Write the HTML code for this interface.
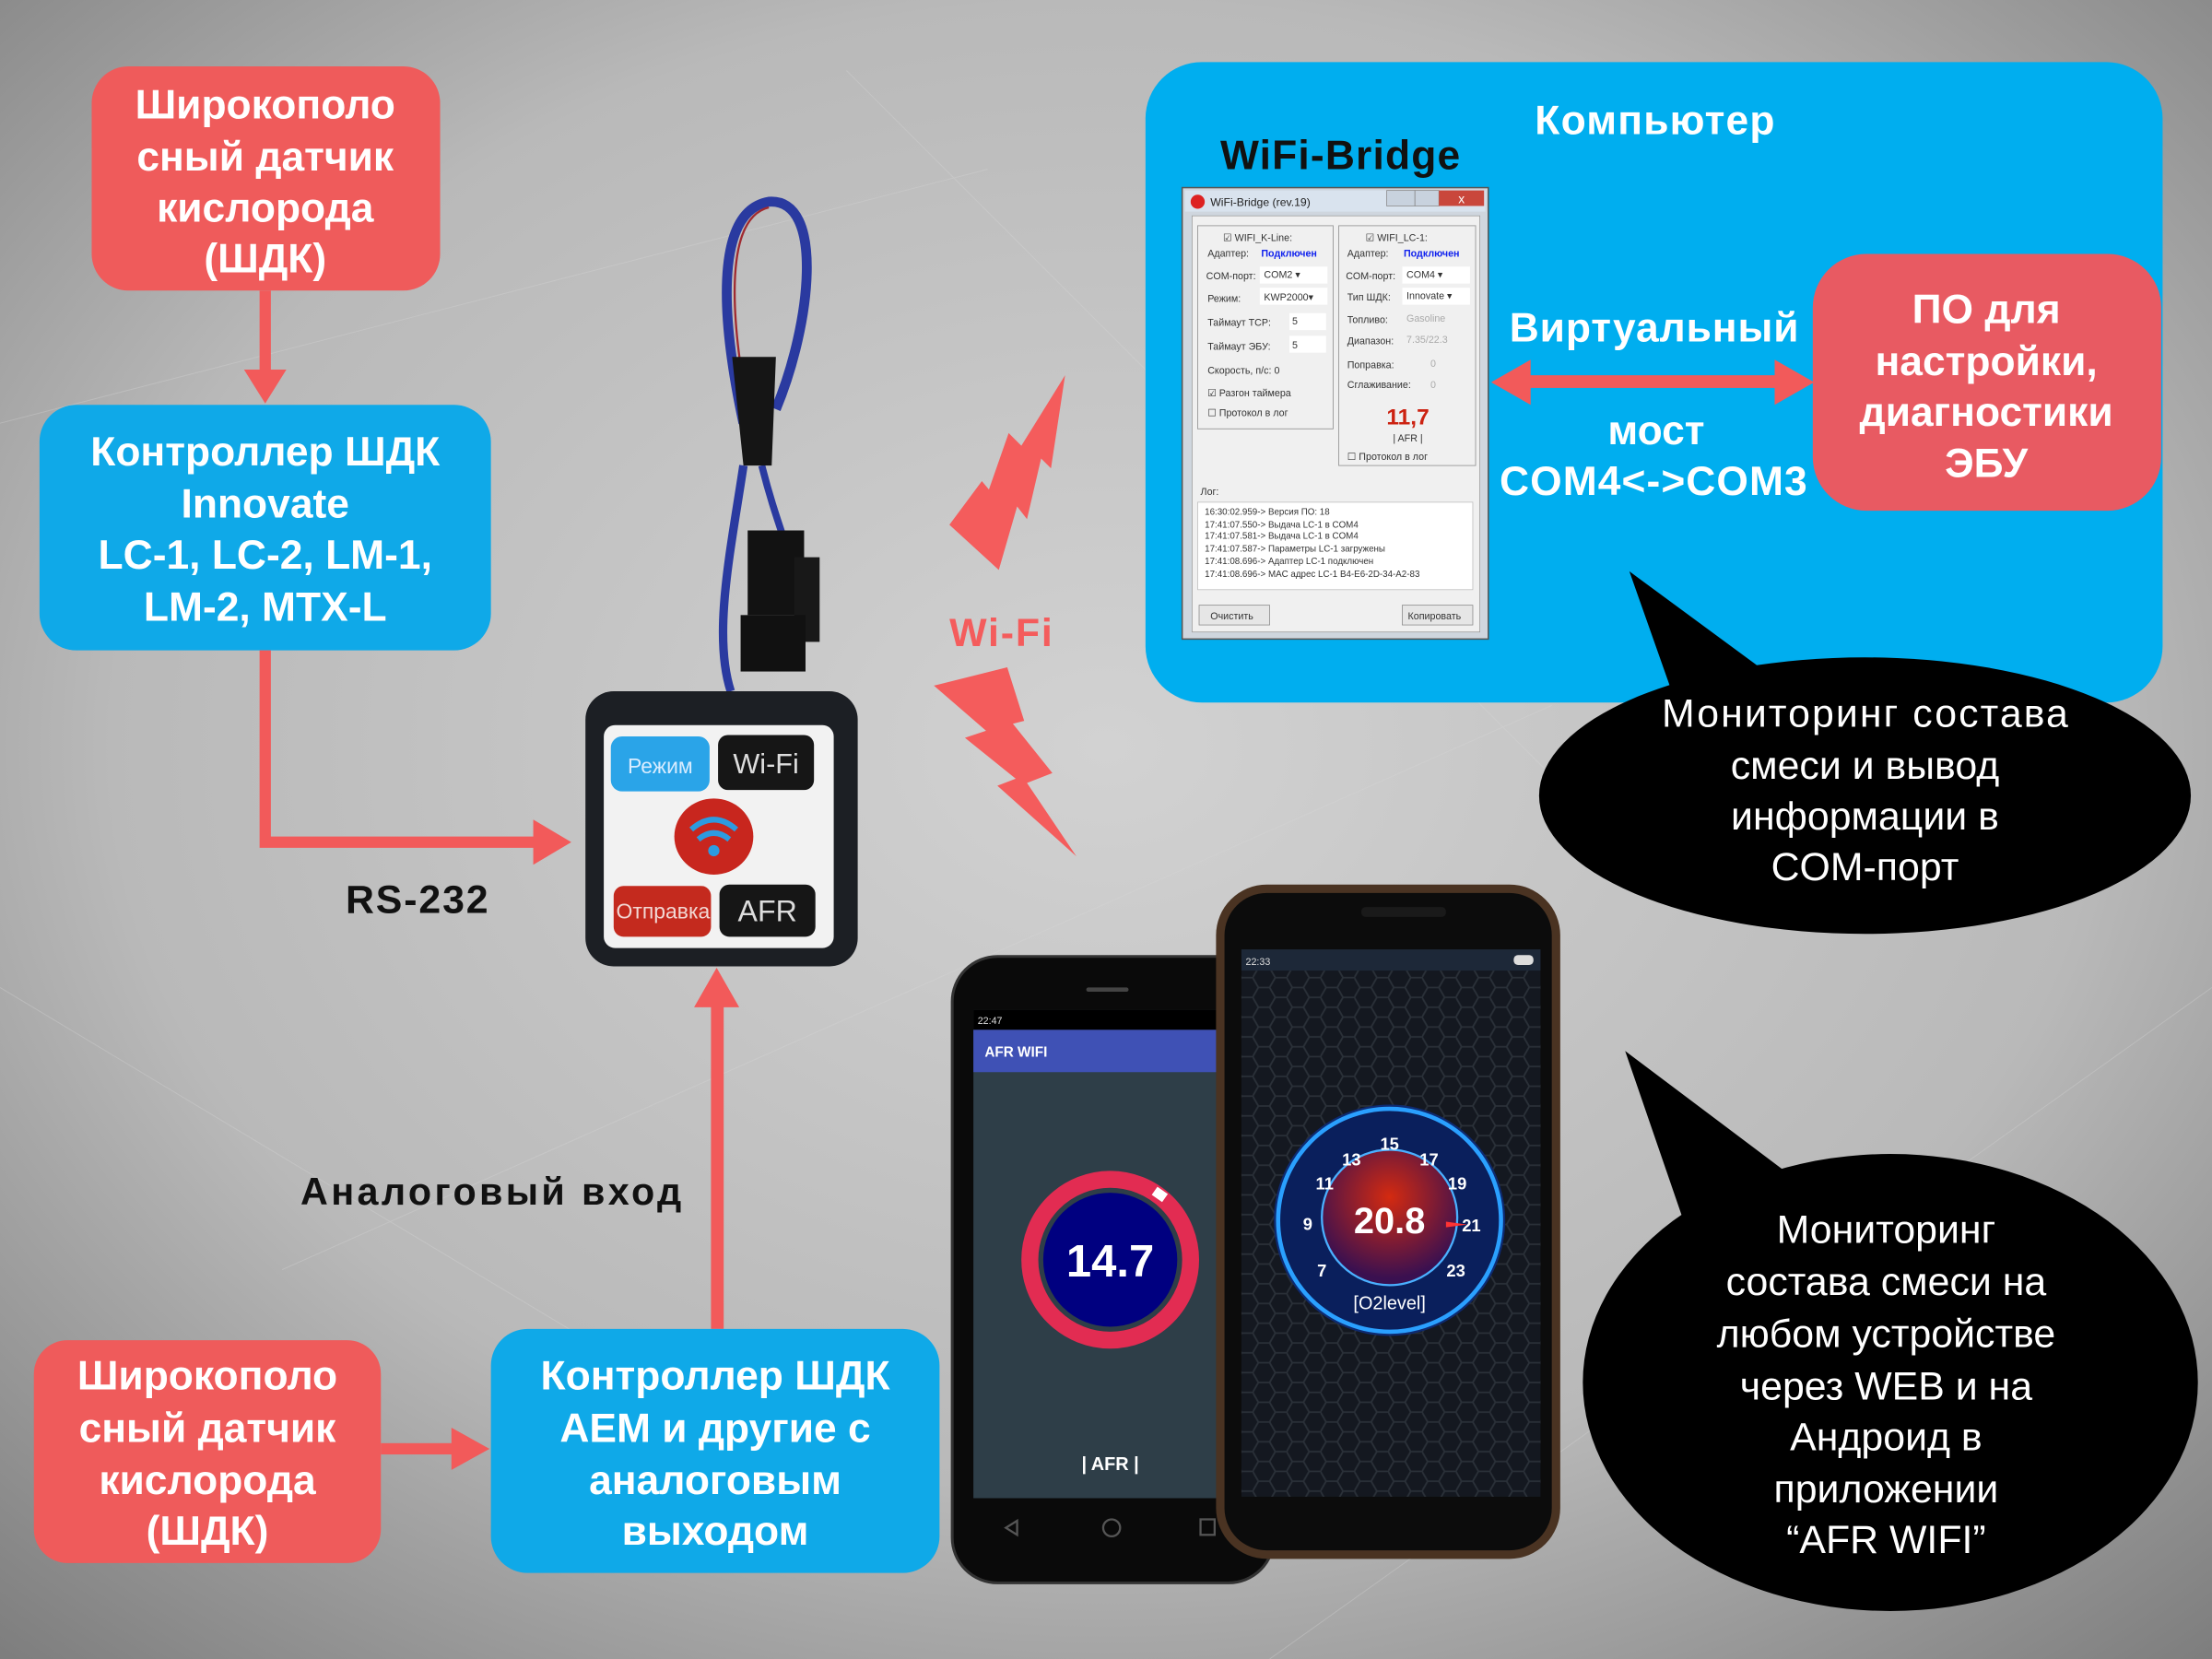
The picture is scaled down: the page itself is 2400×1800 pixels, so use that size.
<!DOCTYPE html>
<html><head><meta charset="utf-8">
<style>
html,body{margin:0;padding:0;width:2400px;height:1800px;overflow:hidden;background:#b0b0b0}
svg{display:block}
text{font-family:"Liberation Sans","DejaVu Sans",sans-serif}
</style></head>
<body>
<svg width="2400" height="1800" viewBox="0 0 1568 1176" xmlns="http://www.w3.org/2000/svg">
<defs>
<radialGradient id="bg" cx="50%" cy="45%" r="75%">
<stop offset="0" stop-color="#d2d2d2"/><stop offset="0.6" stop-color="#b9b9b9"/><stop offset="1" stop-color="#7c7c7c"/>
</radialGradient>
<radialGradient id="gred" cx="50%" cy="35%" r="60%">
<stop offset="0" stop-color="#d42a10"/><stop offset="1" stop-color="#3a1050"/>
</radialGradient>
<pattern id="hex" width="24" height="14" patternUnits="userSpaceOnUse">
<path d="M0 7 L4 0 L12 0 L16 7 L12 14 L4 14 Z M16 7 L24 7" fill="none" stroke="#2a3038" stroke-width="1.2"/>
</pattern>
</defs>
<rect width="1568" height="1176" fill="url(#bg)"/>
<g stroke="#d8d8d8" stroke-width="0.6" opacity="0.35">
<line x1="0" y1="300" x2="700" y2="120"/><line x1="200" y1="900" x2="1100" y2="500"/><line x1="900" y1="1176" x2="1568" y2="700"/><line x1="0" y1="700" x2="500" y2="1000"/><line x1="600" y1="50" x2="1200" y2="650"/>
</g>

<!-- Red box 1 -->
<rect x="65" y="47" width="247" height="159" rx="26" fill="#ef5b5b"/>
<g fill="#fff" font-weight="bold" font-size="29" text-anchor="middle">
<text x="188" y="84">Широкополо</text><text x="188" y="121">сный датчик</text><text x="188" y="157">кислорода</text><text x="188" y="193">(ШДК)</text>
</g>
<rect x="184" y="206" width="8" height="60" fill="#f25a5a"/>
<polygon points="173,262 203,262 188,286" fill="#f25a5a"/>

<!-- Blue box 1 -->
<rect x="28" y="287" width="320" height="174" rx="26" fill="#0fa9e8"/>
<g fill="#fff" font-weight="bold" font-size="29" text-anchor="middle">
<text x="188" y="330">Контроллер ШДК</text><text x="188" y="367">Innovate</text><text x="188" y="403">LC-1, LC-2, LM-1,</text><text x="188" y="440">LM-2, MTX-L</text>
</g>
<path d="M188 461 V597 H382" fill="none" stroke="#f25a5a" stroke-width="8"/>
<polygon points="378,581 378,613 405,597" fill="#f25a5a"/>
<text x="245" y="647" font-size="28" font-weight="bold" fill="#111" textLength="101">RS-232</text>

<!-- cable -->
<path d="M527 300 C512 230 505 150 545 143 C585 140 575 230 550 290" fill="none" stroke="#2a3aa0" stroke-width="7"/>
<path d="M532 300 C518 230 512 155 545 147" fill="none" stroke="#a02a30" stroke-width="1.5"/>
<path d="M527 330 C518 390 505 450 518 490" fill="none" stroke="#2a3aa0" stroke-width="6"/>
<path d="M540 330 C545 350 550 365 555 380" fill="none" stroke="#2a3aa0" stroke-width="5"/>
<polygon points="519,253 550,253 547,330 527,330" fill="#151515"/>
<rect x="530" y="376" width="40" height="60" fill="#121212"/>
<rect x="563" y="395" width="18" height="60" fill="#181818"/>
<rect x="525" y="436" width="46" height="40" fill="#111"/>

<!-- device -->
<rect x="415" y="490" width="193" height="195" rx="20" fill="#1c1f24"/>
<rect x="428" y="514" width="163" height="158" rx="8" fill="#f2f2f2"/>
<rect x="433" y="522" width="70" height="39" rx="8" fill="#2aa4e8"/>
<text x="468" y="548" font-size="15" fill="#d8ecff" text-anchor="middle">Режим</text>
<rect x="509" y="521" width="68" height="39" rx="7" fill="#161616"/>
<text x="543" y="548" font-size="20" fill="#ddd" text-anchor="middle">Wi-Fi</text>
<ellipse cx="506" cy="593" rx="28" ry="27" fill="#c8261e"/>
<g fill="none" stroke="#2c9be0" stroke-width="4">
<path d="M490 588 Q506 574 522 588"/><path d="M495 595 Q506 586 517 595"/>
</g>
<circle cx="506" cy="603" r="4" fill="#2c9be0"/>
<rect x="435" y="628" width="69" height="36" rx="7" fill="#c42a1e"/>
<text x="470" y="651" font-size="15" fill="#f2d8d4" text-anchor="middle">Отправка</text>
<rect x="510" y="627" width="68" height="37" rx="7" fill="#161616"/>
<text x="544" y="653" font-size="21" fill="#ddd" text-anchor="middle">AFR</text>

<rect x="504" y="710" width="9" height="232" fill="#f25a5a"/>
<polygon points="492,714 524,714 508,686" fill="#f25a5a"/>
<text x="213" y="854" font-size="27" font-weight="bold" fill="#111" textLength="270">Аналоговый вход</text>

<!-- Red box 2 -->
<rect x="24" y="950" width="246" height="158" rx="24" fill="#ef5b5b"/>
<g fill="#fff" font-weight="bold" font-size="29" text-anchor="middle">
<text x="147" y="985">Широкополо</text><text x="147" y="1022">сный датчик</text><text x="147" y="1059">кислорода</text><text x="147" y="1095">(ШДК)</text>
</g>
<rect x="270" y="1023" width="55" height="8" fill="#f25a5a"/>
<polygon points="320,1012 320,1042 347,1027" fill="#f25a5a"/>
<rect x="348" y="942" width="318" height="173" rx="26" fill="#0fa9e8"/>
<g fill="#fff" font-weight="bold" font-size="29" text-anchor="middle">
<text x="507" y="985">Контроллер ШДК</text><text x="507" y="1022">AEM и другие с</text><text x="507" y="1059">аналоговым</text><text x="507" y="1095">выходом</text>
</g>

<!-- bolts -->
<polygon fill="#f45c5c" points="755,266 745,332 738,325 728,368 721,359 708,404 673,372 696,341 701,347 715,307 724,316"/>
<polygon fill="#f45c5c" points="662,486 714,473 726,511 718,513 746,548 728,555 763,607 707,557 720,552 684,523 699,518"/>
<text x="673" y="458" font-size="28" font-weight="bold" fill="#f45c5c" textLength="73">Wi-Fi</text>

<!-- computer panel -->
<rect x="812" y="44" width="721" height="454" rx="40" fill="#00aeef"/>
<text x="1088" y="95" font-size="29" font-weight="bold" fill="#fff" textLength="170">Компьютер</text>
<text x="865" y="120" font-size="29" font-weight="bold" fill="#111" textLength="170">WiFi-Bridge</text>

<g>
<rect x="838" y="133" width="217" height="320" fill="#cfd6de" stroke="#555" stroke-width="1"/>
<rect x="840" y="135" width="213" height="15" fill="#d9e3ee"/>
<circle cx="849" cy="143" r="5" fill="#d22"/>
<text x="858" y="146" font-size="8" fill="#222">WiFi-Bridge (rev.19)</text>
<rect x="983" y="135" width="20" height="11" fill="#c8d2de" stroke="#888" stroke-width=".5"/>
<rect x="1003" y="135" width="17" height="11" fill="#c8d2de" stroke="#888" stroke-width=".5"/>
<rect x="1020" y="135" width="32" height="11" fill="#c9473c"/>
<text x="1036" y="144" font-size="9" fill="#fff" text-anchor="middle">x</text>
<rect x="845" y="153" width="204" height="295" fill="#f0f0f0" stroke="#999" stroke-width=".5"/>
<rect x="849" y="160" width="96" height="144" fill="none" stroke="#999" stroke-width=".6"/>
<rect x="949" y="160" width="97" height="170" fill="none" stroke="#999" stroke-width=".6"/>
<g font-size="7" fill="#333">
<text x="867" y="171">☑ WIFI_K-Line:</text>
<text x="856" y="182">Адаптер:</text><text x="894" y="182" fill="#12e" font-weight="bold">Подключен</text>
<text x="855" y="198">COM-порт:</text><rect x="893" y="189" width="48" height="12" fill="#fff"/><text x="896" y="197">COM2 ▾</text>
<text x="856" y="214">Режим:</text><rect x="893" y="204" width="48" height="12" fill="#fff"/><text x="896" y="213">KWP2000▾</text>
<text x="856" y="231">Таймаут TCP:</text><rect x="914" y="222" width="26" height="12" fill="#fff"/><text x="916" y="230">5</text>
<text x="856" y="248">Таймаут ЭБУ:</text><rect x="914" y="238" width="26" height="12" fill="#fff"/><text x="916" y="247">5</text>
<text x="856" y="265">Скорость, п/с:  0</text>
<text x="856" y="281">☑ Разгон таймера</text>
<text x="856" y="295">☐ Протокол в лог</text>
<text x="968" y="171">☑ WIFI_LC-1:</text>
<text x="955" y="182">Адаптер:</text><text x="995" y="182" fill="#12e" font-weight="bold">Подключен</text>
<text x="954" y="198">COM-порт:</text><rect x="994" y="189" width="48" height="12" fill="#fff"/><text x="997" y="197">COM4 ▾</text>
<text x="955" y="213">Тип ШДК:</text><rect x="994" y="204" width="48" height="12" fill="#fff"/><text x="997" y="212">Innovate ▾</text>
<text x="955" y="229">Топливо:</text><text x="997" y="228" fill="#aaa">Gasoline</text>
<text x="955" y="244">Диапазон:</text><text x="997" y="243" fill="#aaa">7.35/22.3</text>
<text x="955" y="261">Поправка:</text><text x="1014" y="260" fill="#aaa">0</text>
<text x="955" y="275">Сглаживание:</text><text x="1014" y="275" fill="#aaa">0</text>
<text x="998" y="301" font-size="16" font-weight="bold" fill="#c21" text-anchor="middle">11,7</text>
<text x="998" y="313" text-anchor="middle">| AFR |</text>
<text x="955" y="326">☐ Протокол в лог</text>
<text x="851" y="351">Лог:</text>
<rect x="849" y="356" width="195" height="62" fill="#fff" stroke="#bbb" stroke-width=".5"/>
<g font-size="6.4">
<text x="854" y="365">16:30:02.959-&gt; Версия ПО: 18</text>
<text x="854" y="374">17:41:07.550-&gt; Выдача LC-1 в COM4</text>
<text x="854" y="382">17:41:07.581-&gt; Выдача LC-1 в COM4</text>
<text x="854" y="391">17:41:07.587-&gt; Параметры LC-1 загружены</text>
<text x="854" y="400">17:41:08.696-&gt; Адаптер LC-1 подключен</text>
<text x="854" y="409">17:41:08.696-&gt; MAC адрес LC-1 B4-E6-2D-34-A2-83</text>
</g>
<rect x="850" y="429" width="50" height="14" fill="#e6e6e6" stroke="#888" stroke-width=".5"/><text x="858" y="439">Очистить</text>
<rect x="994" y="429" width="50" height="14" fill="#e6e6e6" stroke="#888" stroke-width=".5"/><text x="998" y="439">Копировать</text>
</g>
</g>

<rect x="1285" y="180" width="247" height="182" rx="38" fill="#e85a62"/>
<g fill="#fff" font-weight="bold" font-size="29" text-anchor="middle">
<text x="1408" y="229">ПО для</text><text x="1408" y="266">настройки,</text><text x="1408" y="302">диагностики</text><text x="1408" y="338">ЭБУ</text>
</g>
<rect x="1080" y="266" width="182" height="9" fill="#f25a5a"/>
<polygon points="1085,255 1085,287 1057,271" fill="#f25a5a"/>
<polygon points="1258,255 1258,287 1286,271" fill="#f25a5a"/>
<g fill="#fff" font-weight="bold" font-size="29">
<text x="1070" y="242" textLength="205">Виртуальный</text>
<text x="1174" y="315" text-anchor="middle">мост</text>
<text x="1063" y="351" textLength="218">COM4&lt;-&gt;COM3</text>
</g>

<polygon points="1155,405 1250,475 1185,490" fill="#000"/>
<ellipse cx="1322" cy="564" rx="231" ry="98" fill="#000"/>
<g fill="#fff" font-size="28" text-anchor="middle">
<text x="1322" y="515" textLength="288">Мониторинг состава</text><text x="1322" y="552">смеси и вывод</text><text x="1322" y="588">информации в</text><text x="1322" y="624">COM-порт</text>
</g>

<polygon points="1152,745 1265,830 1195,870" fill="#000"/>
<ellipse cx="1340" cy="980" rx="218" ry="162" fill="#000"/>
<g fill="#fff" font-size="28" text-anchor="middle">
<text x="1337" y="881">Мониторинг</text><text x="1337" y="918">состава смеси на</text><text x="1337" y="955">любом устройстве</text><text x="1337" y="992">через WEB и на</text><text x="1337" y="1028">Андроид в</text><text x="1337" y="1065">приложении</text><text x="1337" y="1101">“AFR WIFI”</text>
</g>

<rect x="675" y="678" width="228" height="444" rx="32" fill="#0a0a0a" stroke="#333" stroke-width="2"/>
<rect x="690" y="716" width="178" height="346" fill="#2e3e48"/>
<rect x="690" y="716" width="178" height="14" fill="#000"/>
<text x="693" y="726" font-size="7" fill="#ddd">22:47</text>
<rect x="690" y="730" width="178" height="30" fill="#3f51b5"/>
<text x="698" y="749" font-size="10" font-weight="bold" fill="#fff">AFR WIFI</text>
<rect x="770" y="700" width="30" height="3" rx="1.5" fill="#444"/>
<circle cx="787" cy="893" r="57" fill="none" stroke="#e22c52" stroke-width="12"/>
<circle cx="787" cy="893" r="49" fill="#000080" stroke="#2e3e48" stroke-width="3"/>
<rect x="818" y="843" width="9" height="7" fill="#fff" transform="rotate(35 822 846)"/>
<text x="787" y="905" font-size="32" font-weight="bold" fill="#fff" text-anchor="middle">14.7</text>
<text x="787" y="1042" font-size="13" font-weight="bold" fill="#fff" text-anchor="middle">| AFR |</text>
<g fill="none" stroke="#555" stroke-width="1.5">
<path d="M721 1078 L713 1083 L721 1088 Z"/><circle cx="788" cy="1083" r="6"/><rect x="851" y="1077" width="10" height="11"/>
</g>

<rect x="862" y="627" width="244" height="478" rx="36" fill="#4a3322"/>
<rect x="868" y="633" width="232" height="466" rx="30" fill="#0c0c0c"/>
<rect x="880" y="673" width="212" height="388" fill="#141820"/>
<rect x="880" y="688" width="212" height="373" fill="url(#hex)"/>
<rect x="880" y="673" width="212" height="15" fill="#1d2838"/>
<text x="883" y="684" font-size="7" fill="#ddd">22:33</text>
<rect x="1073" y="677" width="14" height="7" rx="3" fill="#ddd"/>
<rect x="965" y="643" width="60" height="7" rx="3" fill="#1a1a1a"/>
<circle cx="985" cy="865" r="82" fill="#0e2a70"/>
<circle cx="985" cy="865" r="79" fill="#0a1f5c" stroke="#2aa0ff" stroke-width="3"/>
<circle cx="985" cy="863" r="48" fill="url(#gred)" stroke="#4ab0ff" stroke-width="1.5"/>
<g fill="#fff" font-size="12" font-weight="bold" text-anchor="middle">
<text x="985" y="815">15</text><text x="958" y="826">13</text><text x="1013" y="826">17</text>
<text x="939" y="843">11</text><text x="1033" y="843">19</text>
<text x="927" y="872">9</text><text x="1043" y="873">21</text>
<text x="937" y="905">7</text><text x="1032" y="905">23</text>
</g>
<text x="985" y="874" font-size="26" font-weight="bold" fill="#fff" text-anchor="middle">20.8</text>
<polygon points="1025,866 1040,868 1025,870" fill="#f33"/>
<text x="985" y="928" font-size="13" fill="#fff" text-anchor="middle">[O2level]</text>
</svg>
</body></html>
